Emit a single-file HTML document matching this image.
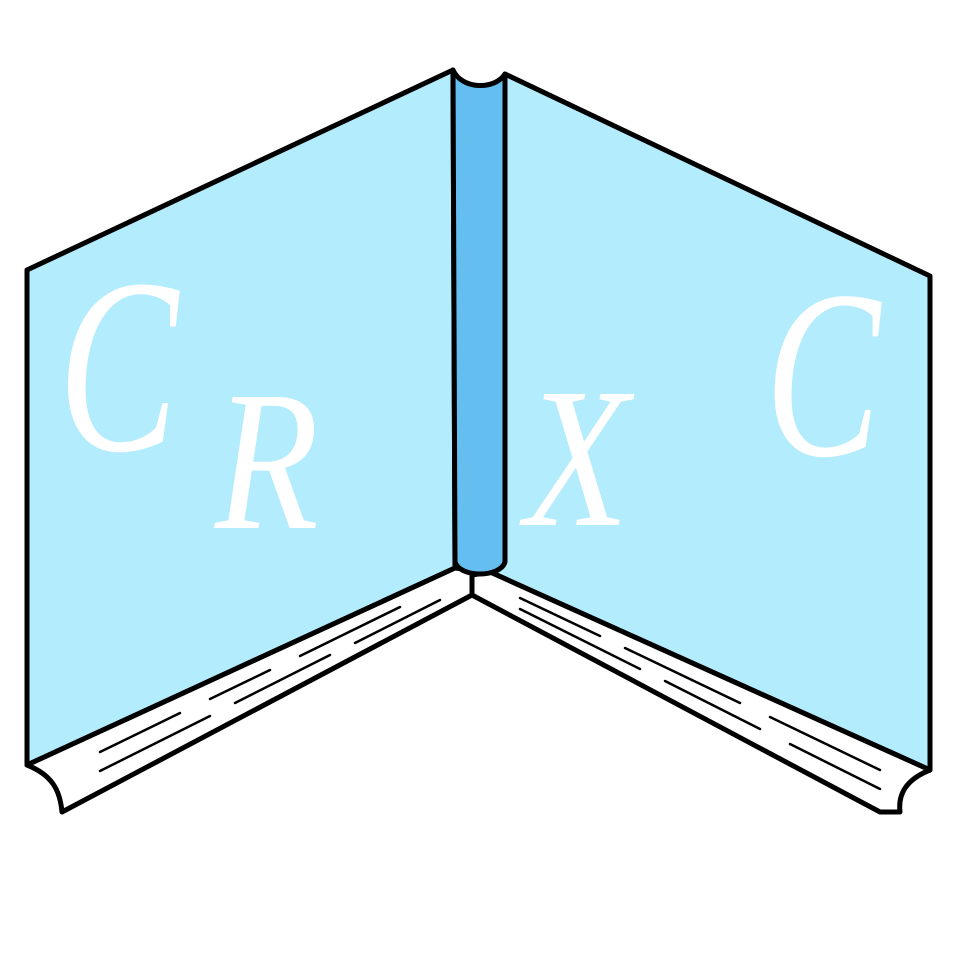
<!DOCTYPE html>
<html><head><meta charset="utf-8"><style>
html,body{margin:0;padding:0;background:#fff;width:960px;height:960px;overflow:hidden}
svg{display:block}
text{font-family:"Liberation Serif",serif;font-style:italic;fill:#fff}
</style></head><body>
<svg width="960" height="960" viewBox="0 0 960 960">
<g stroke="#000" stroke-width="5" stroke-linejoin="round">
<polygon points="27,270 453,70 455,568 27,765" fill="#b3ecfd"/>
<polygon points="505,74 930,276 930,770 490,572" fill="#b3ecfd"/>
<path d="M27,765 L455,568 L488,572 L472,595 L62,812 C60,790 52,775 27,765 Z" fill="#fff"/>
<path d="M472,575 L490,572 L930,770 C905,780 898,795 900,812 L880,812 L472,595 Z" fill="#fff"/>
<path d="M453,70 C462,90 495,90 505,74 L505,562 C500,578 460,578 455,562 Z" fill="#64bff0"/>
</g>
<g stroke="#000" stroke-width="2.5" stroke-linecap="round">
<line x1="100" y1="752" x2="180" y2="713"/>
<line x1="210" y1="699" x2="270" y2="670"/>
<line x1="300" y1="656" x2="400" y2="607"/>
<line x1="100" y1="771" x2="210" y2="716"/>
<line x1="235" y1="703" x2="330" y2="655"/>
<line x1="355" y1="643" x2="440" y2="600"/>
<line x1="520" y1="598" x2="600" y2="636"/>
<line x1="625" y1="648" x2="740" y2="703"/>
<line x1="770" y1="717" x2="880" y2="770"/>
<line x1="520" y1="609" x2="640" y2="669"/>
<line x1="665" y1="681" x2="760" y2="729"/>
<line x1="790" y1="744" x2="880" y2="789"/>
</g>
<text transform="translate(58,450) scale(0.72,1)" font-size="250">C</text>
<text transform="translate(215,528) scale(0.85,1)" font-size="200">R</text>
<text transform="translate(525,525) scale(0.85,1)" font-size="200">X</text>
<text transform="translate(765,455) scale(0.72,1)" font-size="240">C</text>
</svg>
</body></html>
